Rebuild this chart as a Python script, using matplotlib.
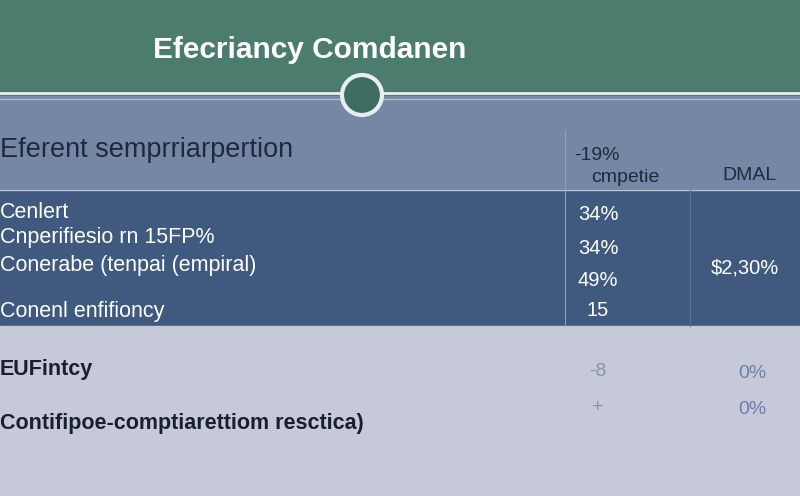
import matplotlib
matplotlib.use("Agg")
import matplotlib.pyplot as plt
from matplotlib.patches import Rectangle, Circle

plt.rcParams["font.family"] = "Liberation Sans"

title = "Efecriancy Comdanen"
header_label = "Eferent semprriarpertion"
col_headers = ["-19%\ncmpetie", "DMAL"]
dark_rows = ["Cenlert", "Cnperifiesio rn 15FP%", "Conerabe (tenpai (empiral)", "Conenl enfifioncy"]
dark_vals = ["34%", "34%", "49%", "15"]
dark_total = "$2,30%"
light_rows = ["EUFintcy", "Contifipoe-comptiarettiom resctica)"]
light_vals = ["-8", "+"]
light_pct = ["0%", "0%"]

W, H = 800, 496
fig = plt.figure(figsize=(8, 4.96), dpi=100)
ax = fig.add_axes([0, 0, 1, 1])
ax.set_xlim(0, W); ax.set_ylim(H, 0); ax.axis("off")

ax.add_patch(Rectangle((0, 0), W, 96, color="#4b7c6e"))
ax.add_patch(Rectangle((0, 96), W, 94, color="#7488a6"))
ax.add_patch(Rectangle((0, 190), W, 136, color="#3f5a7e"))
ax.add_patch(Rectangle((0, 326), W, 170, color="#c6c9da"))
ax.plot([0, W], [93, 93], color="#e8eef0", lw=2)
ax.plot([0, W], [99, 99], color="#a9c0c2", lw=1)
ax.plot([0, W], [190, 190], color="#b8c4d6", lw=1)
ax.plot([565, 565], [130, 326], color="#8fa0b8", lw=0.8)
ax.plot([690, 690], [190, 326], color="#5c7394", lw=0.8)
ax.add_patch(Circle((362, 95), 20, facecolor="#3f6d62", edgecolor="#e8eef0", lw=3, zorder=5))

ax.text(153, 50, title, color="white", fontsize=21.5, fontweight="bold", va="center")
ax.text(0, 150, header_label, color="#1e2a3c", fontsize=19.5, va="center")
ax.text(597, 156, "-19%", color="#1e2a3c", fontsize=14, va="center", ha="center")
ax.text(625, 177, "cmpetie", color="#1e2a3c", fontsize=14, va="center", ha="center")
ax.text(750, 175, col_headers[1], color="#1e2a3c", fontsize=14, va="center", ha="center")

ys = [213, 238, 266, 311]
vys = [214, 249, 281, 311]
for y, lab in zip(ys, dark_rows):
    ax.text(0, y, lab, color="white", fontsize=15.5, va="center")
for y, v in zip(vys, dark_vals):
    ax.text(598, y, v, color="white", fontsize=14.5, va="center", ha="center")
ax.text(745, 268, dark_total, color="white", fontsize=14.5, va="center", ha="center")

lys = [370, 423]
for y, lab in zip(lys, light_rows):
    ax.text(0, y, lab, color="#1a1f2e", fontsize=15.5, fontweight="bold", va="center")
for y, v in zip([372, 408], light_vals):
    ax.text(598, y, v, color="#8a93a8", fontsize=14, va="center", ha="center")
for y, v in zip([374, 410], light_pct):
    ax.text(752, y, v, color="#6c7fa8", fontsize=14, va="center", ha="center")

fig.savefig("out.png", dpi=100)
